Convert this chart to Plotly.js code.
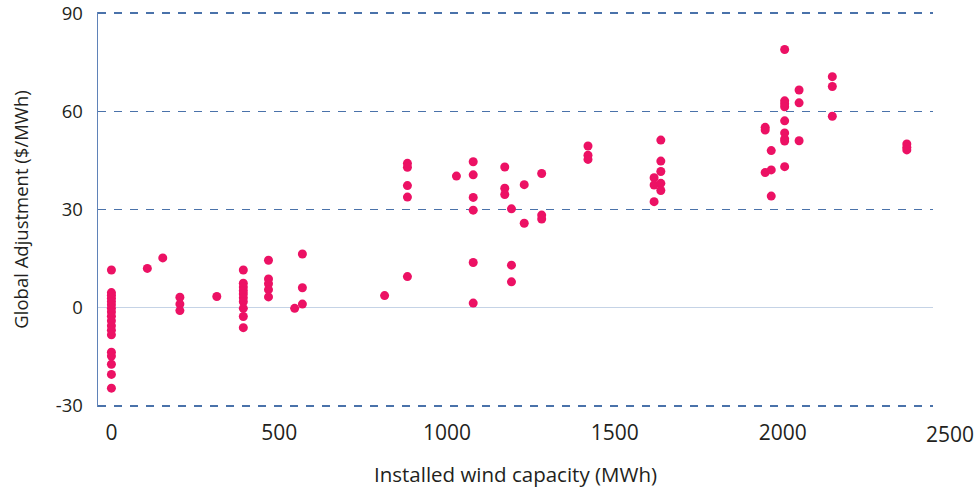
<!DOCTYPE html>
<html>
<head>
<meta charset="utf-8">
<script src="https://cdn.plot.ly/plotly-3.0.1.min.js"></script>
<style>html,body{margin:0;padding:0;background:#fff;}#chart{width:976px;height:495px;}</style>
</head>
<body>
<div id="chart"></div>
<script>
// Installed wind capacity (MWh) for each observation
const windCapacity = [
  0,0,0,0,0,0,0,0,0,0,0,0,0,0,0,0,0,0,
  107, 153,
  204,204,204,
  314,
  393,393,393,393,393,393,393,393,393,393,
  468,468,468,468,468,
  546,
  569,569,569,
  814,
  882,882,882,882,882,
  1028,
  1078,1078,1078,1078,1078,1078,
  1172,1172,1172,
  1192,1192,1192,
  1230,1230,
  1282,1282,1282,
  1420,1420,1420,
  1617,1617,1617,
  1637,1637,1637,1637,1637,
  1948,1948,1948,
  1966,1966,1966,
  2006,2006,2006,2006,2006,2006,2006,2006,2006,
  2049,2049,2049,
  2148,2148,2148,
  2370,2370,2370
];
// Global Adjustment ($/MWh) for each observation
const globalAdjustment = [
  11.5,4.6,3.8,2.9,1.9,0.9,-0.2,-1.3,-2.6,-4.0,-5.5,-6.9,-8.3,-13.6,-14.8,-17.3,-20.4,-24.6,
  12.0, 15.2,
  3.2,1.1,-0.9,
  3.4,
  11.5,7.5,6.3,5.2,4.2,3.0,1.8,-0.2,-2.7,-6.1,
  14.5,8.8,7.3,5.5,3.3,
  -0.2,
  16.4,6.1,1.1,
  3.7,
  44.1,42.9,37.3,33.8,9.5,
  40.2,
  44.6,40.6,33.7,29.8,13.8,1.4,
  43.0,36.5,34.6,
  30.2,13.0,7.9,
  37.6,25.8,
  41.0,28.3,27.1,
  49.4,46.6,45.3,
  39.7,37.5,32.4,
  51.2,44.8,41.6,38.0,35.8,
  55.1,54.3,41.3,
  48.0,42.1,34.1,
  78.9,63.2,62.3,61.4,57.1,53.4,51.6,50.9,43.1,
  66.5,62.6,51.0,
  70.6,67.6,58.5,
  50.0,49.0,48.2
];
const xTicks = [0, 500, 1000, 1500, 2000, 2500];
const yTicks = [-30, 0, 30, 60, 90];

const FONT = '"Open Sans", "Noto Sans", sans-serif';
const TEXT = '#231f20';
const xRange = [-40, 2448];
const yRange = [-30.35, 90.35];

// ticks inside the range are drawn by the axis; ticks past the end (as in the
// reference) are placed through the same linear scale as paper-fraction labels
const inRange = xTicks.filter(v => v >= xRange[0] && v <= xRange[1]);
const outRange = xTicks.filter(v => v < xRange[0] || v > xRange[1]);
const toFrac = v => (v - xRange[0]) / (xRange[1] - xRange[0]);

const trace = {
  type: 'scatter',
  mode: 'markers',
  x: windCapacity,
  y: globalAdjustment,
  marker: {color: '#ec1164', size: 9, line: {width: 0}},
  hoverinfo: 'x+y'
};

const layout = {
  width: 976, height: 495,
  margin: {l: 98, r: 43, t: 12, b: 88},
  paper_bgcolor: '#ffffff', plot_bgcolor: '#ffffff',
  showlegend: false,
  font: {family: FONT, color: TEXT, size: 18},
  xaxis: {
    range: xRange,
    tickvals: inRange,
    ticktext: inRange.map(String),
    showgrid: false, zeroline: false, showline: false,
    ticks: '', ticklabelstandoff: 11, ticklabeloverflow: 'allow',
    tickfont: {family: FONT, size: 21, color: TEXT},
    title: {text: 'Installed wind capacity (MWh)', font: {family: FONT, size: 20.5, color: TEXT}, standoff: 22}
  },
  yaxis: {
    range: yRange,
    tickvals: yTicks,
    ticktext: yTicks.map(String),
    showgrid: true, gridcolor: '#4a72aa', gridwidth: 1.5, griddash: '8px,8px',
    zeroline: true, zerolinecolor: '#c5d3e6', zerolinewidth: 1.3,
    showline: true, linecolor: '#5f82b8', linewidth: 1.5,
    ticks: '', ticklabelstandoff: 10, ticklabeloverflow: 'allow',
    tickfont: {family: FONT, size: 18.5, color: TEXT},
    title: {text: 'Global Adjustment ($/MWh)', font: {family: FONT, size: 18.5, color: TEXT}, standoff: 22}
  },
  annotations: outRange.map(v => ({
    xref: 'paper', yref: 'paper',
    x: toFrac(v), y: 0,
    xanchor: 'center', yanchor: 'top',
    yshift: -11,
    text: String(v), showarrow: false,
    font: {family: FONT, size: 21, color: TEXT}
  }))
};

Plotly.newPlot('chart', [trace], layout, {staticPlot: true, displayModeBar: false});
</script>
</body>
</html>
